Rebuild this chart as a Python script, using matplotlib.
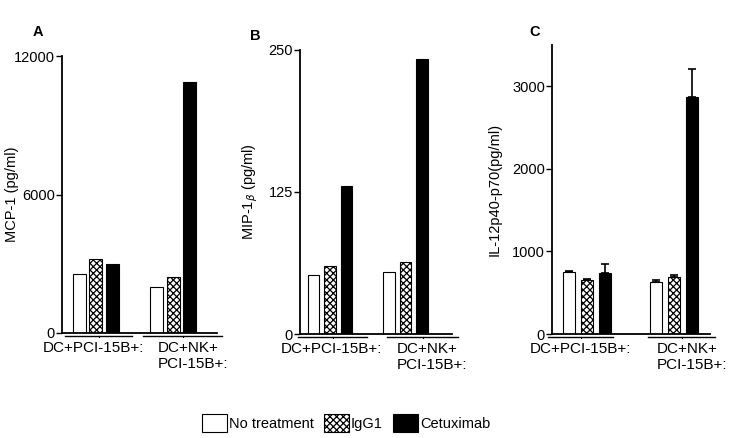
import matplotlib
matplotlib.use("Agg")
import matplotlib.pyplot as plt
from matplotlib.patches import Patch
from matplotlib.transforms import blended_transform_factory
import numpy as np

plt.rcParams['font.family'] = ['Liberation Sans', 'DejaVu Sans']
plt.rcParams['font.size'] = 10.5
plt.rcParams['hatch.linewidth'] = 0.9

groups = ["DC+PCI-15B+:", "DC+NK+\nPCI-15B+:"]
treatments = ["No treatment", "IgG1", "Cetuximab"]

mcp1 = {"No treatment": [2560, 1990], "IgG1": [3210, 2430], "Cetuximab": [2990, 10870]}
mip1b = {"No treatment": [52, 55], "IgG1": [60, 63], "Cetuximab": [130, 242]}
il12 = {"No treatment": [755, 630], "IgG1": [655, 695], "Cetuximab": [740, 2870]}
il12_err = {"No treatment": [8, 25], "IgG1": [8, 15], "Cetuximab": [105, 340]}

ylabels = ["MCP-1 (pg/ml)", r"MIP-1$_{\beta}$ (pg/ml)", "IL-12p40-p70(pg/ml)"]
yticks = [[0, 6000, 12000], [0, 125, 250], [0, 1000, 2000, 3000]]
ylims = [12000, 250, 3500]
letters = ["A", "B", "C"]

W, H = 733, 438
fig = plt.figure(figsize=(W / 100, H / 100), dpi=100)

def px_axes(x0, x1, ybot, ytop):
    return fig.add_axes([x0 / W, (H - ybot) / H, (x1 - x0) / W, (ybot - ytop) / H])

# panel layout: (axis x0, x1, y0 px, ytop px, group spacing px, first group center px, step px, width px)
layouts = [
    (62, 217, 333, 56, 77.5, 95.5, 16.5, 13),
    (300, 452, 334, 50, 75.5, 330, 16.5, 11.5),
    (552, 710, 334, 45, 87, 587, 18.2, 12.5),
]
# group underline extents (px) and label centers (px)
underlines = [
    [(65, 132), (143, 222)],
    [(298, 367), (387, 458)],
    [(548, 613), (648, 715)],
]
label_x = [[93, 193], [331, 432], [580, 692]]
ylabel_x = [12, 250, 495]
letter_pos = [(38, 32), (255, 36), (535, 32)]

datasets = [mcp1, mip1b, il12]
errs = [None, None, il12_err]

styles = {
    "No treatment": dict(facecolor="white", edgecolor="black", hatch=None),
    "IgG1": dict(facecolor="white", edgecolor="black", hatch="xxxxx"),
    "Cetuximab": dict(facecolor="black", edgecolor="black", hatch=None),
}

for i in range(3):
    x0, x1, yb, yt, gs, gc, st, bw = layouts[i]
    ax = px_axes(x0, x1, yb, yt)
    ax.set_xlim((x0 - gc) / gs, (x1 - gc) / gs)
    ax.set_ylim(0, ylims[i])
    xg = np.arange(len(groups))
    for k, t in enumerate(treatments):
        xs = xg + (k - 1) * st / gs
        vals = datasets[i][t]
        ax.bar(xs, vals, width=bw / gs, linewidth=0.8, **styles[t])
        if errs[i] is not None:
            e = errs[i][t]
            ax.errorbar(xs, vals, yerr=[np.zeros(len(e)), e], fmt="none",
                        ecolor="black", elinewidth=1.2, capsize=3, capthick=1.2)
    for s in ["top", "right"]:
        ax.spines[s].set_visible(False)
    ax.spines["left"].set_linewidth(1.3)
    ax.spines["bottom"].set_linewidth(1.3)
    ax.set_yticks(yticks[i])
    ax.tick_params(axis="y", length=4, width=1, pad=1, labelsize=10.5)
    ax.set_xticks([])
    # group underlines
    tr = blended_transform_factory(ax.transData, ax.transAxes)
    off = -2.5 / (yb - yt)
    for (a, b) in underlines[i]:
        xa, xb = (a - gc) / gs, (b - gc) / gs
        ax.plot([xa, xb], [off, off], color="black", lw=1.0, transform=tr, clip_on=False)
        xm = (xa + xb) / 2
        ax.plot([xm, xm], [off, off - 1.5 / (yb - yt)], color="black", lw=0.8,
                transform=tr, clip_on=False)
    for g in range(len(groups)):
        fig.text(label_x[i][g] / W, (H - (yb + 8)) / H, groups[g], ha="center", va="top",
                 multialignment="left", fontsize=11, linespacing=1.2)
    fig.text(ylabel_x[i] / W, (H - (yb + yt) / 2) / H, ylabels[i], rotation=90,
             ha="center", va="center", fontsize=10.5)
    fig.text(letter_pos[i][0] / W, (H - letter_pos[i][1]) / H, letters[i],
             fontweight="bold", fontsize=10.5, ha="center", va="center")

handles = [Patch(label=t, linewidth=0.8, **styles[t]) for t in treatments]
fig.legend(handles=handles, loc="center", bbox_to_anchor=(346 / W, (H - 423) / H),
           ncol=3, frameon=False, fontsize=10.5, handlelength=1.7, handleheight=1.6,
           handletextpad=0.15, columnspacing=0.7, borderaxespad=0)

fig.savefig("out.png", dpi=100)
